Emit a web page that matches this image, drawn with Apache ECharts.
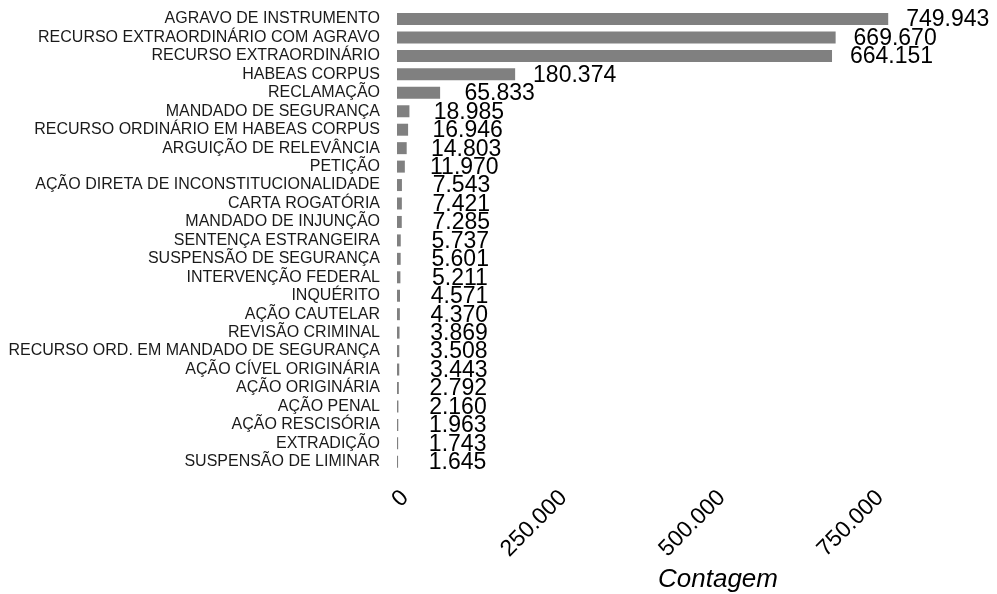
<!DOCTYPE html>
<html>
<head>
<meta charset="utf-8">
<script src="https://cdn.jsdelivr.net/npm/echarts@6/dist/echarts.min.js"></script>
<style>
  html, body { margin: 0; padding: 0; background: #fff; }
  #chart { width: 997px; height: 594px; }
</style>
</head>
<body>
<div id="chart"></div>
<script>
  // classes processuais, da maior para a menor contagem
  const categorias = [
    'AGRAVO DE INSTRUMENTO',
    'RECURSO EXTRAORDINÁRIO COM AGRAVO',
    'RECURSO EXTRAORDINÁRIO',
    'HABEAS CORPUS',
    'RECLAMAÇÃO',
    'MANDADO DE SEGURANÇA',
    'RECURSO ORDINÁRIO EM HABEAS CORPUS',
    'ARGUIÇÃO DE RELEVÂNCIA',
    'PETIÇÃO',
    'AÇÃO DIRETA DE INCONSTITUCIONALIDADE',
    'CARTA ROGATÓRIA',
    'MANDADO DE INJUNÇÃO',
    'SENTENÇA ESTRANGEIRA',
    'SUSPENSÃO DE SEGURANÇA',
    'INTERVENÇÃO FEDERAL',
    'INQUÉRITO',
    'AÇÃO CAUTELAR',
    'REVISÃO CRIMINAL',
    'RECURSO ORD. EM MANDADO DE SEGURANÇA',
    'AÇÃO CÍVEL ORIGINÁRIA',
    'AÇÃO ORIGINÁRIA',
    'AÇÃO PENAL',
    'AÇÃO RESCISÓRIA',
    'EXTRADIÇÃO',
    'SUSPENSÃO DE LIMINAR'
  ];
  const contagem = [
    749943, 669670, 664151, 180374, 65833, 18985, 16946, 14803, 11970,
    7543, 7421, 7285, 5737, 5601, 5211, 4571, 4370, 3869, 3508, 3443,
    2792, 2160, 1963, 1743, 1645
  ];
  const ticksX = [0, 250000, 500000, 750000];

  const fmt = (v) => String(v).replace(/\B(?=(\d{3})+(?!\d))/g, '.');

  const chart = echarts.init(document.getElementById('chart'));
  const hidden = {
    axisLine: { show: false },
    axisTick: { show: false },
    splitLine: { show: false }
  };
  const option = {
    animation: false,
    backgroundColor: '#ffffff',
    textStyle: { fontFamily: 'Liberation Sans, Arial, sans-serif' },
    title: {
      text: 'Contagem',
      left: 713,
      top: 562,
      textAlign: 'center',
      textStyle: {
        fontSize: 26,
        fontStyle: 'italic',
        fontWeight: 'normal',
        color: '#000',
        fontFamily: 'Liberation Sans, Arial, sans-serif'
      }
    },
    grid: { left: 397, top: 9.8, width: 524, height: 461.2 },
    xAxis: [
      {
        // escala das barras
        type: 'value',
        min: 0,
        max: 800000,
        ...hidden,
        axisLabel: { show: false }
      },
      {
        // rótulos do eixo (no original ficam um pouco comprimidos)
        type: 'value',
        position: 'bottom',
        min: 0,
        max: 827400,
        interval: 250000,
        ...hidden,
        axisLabel: {
          rotate: 45,
          margin: 15,
          fontSize: 23,
          color: '#000',
          verticalAlign: 'top',
          showMaxLabel: false,
          formatter: (v) => (ticksX.indexOf(v) >= 0 ? fmt(v) : '')
        }
      }
    ],
    yAxis: {
      type: 'category',
      data: categorias,
      inverse: true,
      ...hidden,
      axisLabel: { interval: 0, fontSize: 16, color: '#1a1a1a', margin: 17 }
    },
    series: [
      {
        type: 'bar',
        xAxisIndex: 0,
        data: contagem,
        barWidth: 12,
        itemStyle: { color: '#808080' },
        label: {
          show: true,
          position: 'right',
          distance: 59.5,
          align: 'center',
          offset: [0, 1],
          fontSize: 23,
          color: '#000',
          formatter: (p) => fmt(p.value)
        }
      }
    ]
  };
  chart.setOption(option);
</script>
</body>
</html>
